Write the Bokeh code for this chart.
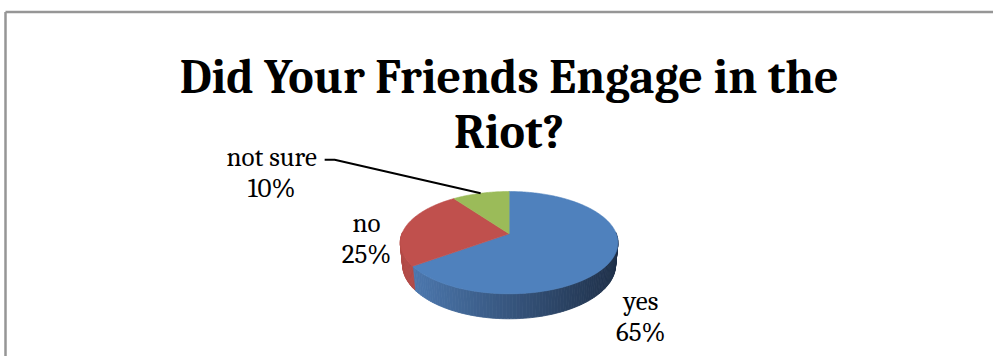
import math
from bokeh.plotting import figure
from bokeh.embed import file_html
from bokeh.resources import INLINE
from bokeh.models import Range1d, ColumnDataSource
from bokeh.core.properties import value

# ---------------- data ----------------
categories = ["yes", "no", "not sure"]
values = [65, 25, 10]
title_lines = ["Did Your Friends Engage in the", "Riot?"]

# ---------------- style / layout ----------------
top_colors = ["#4f81bd", "#c0504d", "#9bbb59"]
side_light = ["#4e7bb3", "#b34b48", "#8fae52"]
side_dark = ["#1f3049", "#7a2f2d", "#5e7636"]
W, H = 993, 356
CX, CY = 508.6, 233.3          # projected pie centre (pixels)
F, D = 549.3, 5.124            # perspective focal / distance
SIN_T, COS_T = 0.4629, 0.8864  # tilt of the pie
THICK = 0.2366                 # pie thickness (radius units)
# label offsets from the rim point at each slice's mid-angle (pixels)
label_dx = [28.0, -39.5, -209.0]
label_dy = [43.0, -3.0, -35.5]
line_gap = 31
serif = "Caladea, Cambria, 'Liberation Serif', serif"
label_size = "27px"


def project(theta, z=0.0):
    """theta: clockwise angle from 12 o'clock in radians; z: height (radius units)."""
    x = math.sin(theta)
    w = math.cos(theta)
    d = D + w * COS_T - z * SIN_T
    v = w * SIN_T + z * COS_T
    return CX + F * x / d, CY - F * v / d


p = figure(width=W, height=H, x_range=Range1d(0, W), y_range=Range1d(H, 0),
           output_backend="svg", toolbar_location=None, min_border=0,
           x_axis_location=None, y_axis_location=None)
p.grid.visible = False
p.outline_line_color = None
p.background_fill_color = "white"
p.border_fill_color = "white"

# chart-area border (only top and left edges are inside the window)
p.line(x=[5, W + 5], y=[11.5, 11.5], line_color="#969696", line_width=2.5)
p.line(x=[5, 5], y=[11.5, H + 5], line_color="#969696", line_width=2.5)

total = float(sum(values))
starts, ends = [], []
acc = 0.0
for v in values:
    starts.append(acc / total * 2 * math.pi)
    acc += v
    ends.append(acc / total * 2 * math.pi)


def hex2rgb(h):
    h = h.lstrip("#")
    return tuple(int(h[i:i + 2], 16) for i in (0, 2, 4))


def lerp(c1, c2, t):
    a, b = hex2rgb(c1), hex2rgb(c2)
    return "#%02x%02x%02x" % tuple(int(round(a[i] + (b[i] - a[i]) * t)) for i in range(3))


# ----- sides (front half only) -----
xl, _ = project(-math.pi / 2 - 0.17)
xr, _ = project(math.pi / 2 + 0.17)
front_a, front_b = math.radians(88), math.radians(272)
xs_side, ys_side, cols_side = [], [], []
for i in range(len(values)):
    a = max(starts[i], front_a)
    b = min(ends[i], front_b)
    if b <= a:
        continue
    n = max(2, int((b - a) / math.radians(1.5)))
    for k in range(n):
        t1 = a + (b - a) * k / n
        t2 = a + (b - a) * (k + 1) / n
        p1 = project(t1); p2 = project(t2)
        q2 = project(t2, -THICK); q1 = project(t1, -THICK)
        xs_side.append([p1[0], p2[0], q2[0], q1[0]])
        ys_side.append([p1[1], p2[1], q2[1], q1[1]])
        xm = (p1[0] + p2[0]) / 2
        t = min(1.0, max(0.0, (xm - xl) / (xr - xl)))
        cols_side.append(lerp(side_light[i], side_dark[i], t))
p.patches(xs="xs", ys="ys", fill_color="c", line_color="c", line_width=0.8,
          source=ColumnDataSource(dict(xs=xs_side, ys=ys_side, c=cols_side)))

# ----- top faces -----
xs_top, ys_top = [], []
for i in range(len(values)):
    n = max(4, int((ends[i] - starts[i]) / math.radians(1)))
    px, py = [CX], [CY]
    for k in range(n + 1):
        t = starts[i] + (ends[i] - starts[i]) * k / n
        x, y = project(t)
        px.append(x); py.append(y)
    xs_top.append(px); ys_top.append(py)
p.patches(xs="xs", ys="ys", fill_color="c", line_color="c", line_width=0.6,
          source=ColumnDataSource(dict(xs=xs_top, ys=ys_top, c=top_colors)))

# ----- data labels -----
name_x, name_y, pct_x, pct_y, names, pcts = [], [], [], [], [], []
rims = []
for i, cat in enumerate(categories):
    mid = (starts[i] + ends[i]) / 2
    rx, ry = project(mid)
    rims.append((rx, ry))
    lx, ly = rx + label_dx[i], ry + label_dy[i]
    names.append(cat)
    pcts.append("%d%%" % round(values[i] / total * 100))
    name_x.append(lx); name_y.append(ly)
    pct_x.append(lx); pct_y.append(ly + line_gap)
p.text(x=name_x, y=name_y, text=names, text_font=value(serif), text_font_size=label_size,
       text_align="center", text_baseline="alphabetic", text_color="#000000")
p.text(x=pct_x, y=pct_y, text=pcts, text_font=value(serif), text_font_size=label_size,
       text_align="center", text_baseline="alphabetic", text_color="#000000")

# leader line for the smallest slice ("not sure")
j = values.index(min(values))
lead_x0 = name_x[j] + 53
p.line(x=[lead_x0, lead_x0 + 10, rims[j][0]], y=[name_y[j] + 2, name_y[j] + 2, rims[j][1]],
       line_color="#000000", line_width=2)

# ----- title -----
p.text(x=[508.7, 508.7], y=[76.7, 132.3], text=title_lines, text_font=value(serif),
       text_font_size="48px", text_font_style="bold", text_align="center",
       text_baseline="alphabetic", text_color="#000000")

open("out.html", "w").write(file_html(p, INLINE))
